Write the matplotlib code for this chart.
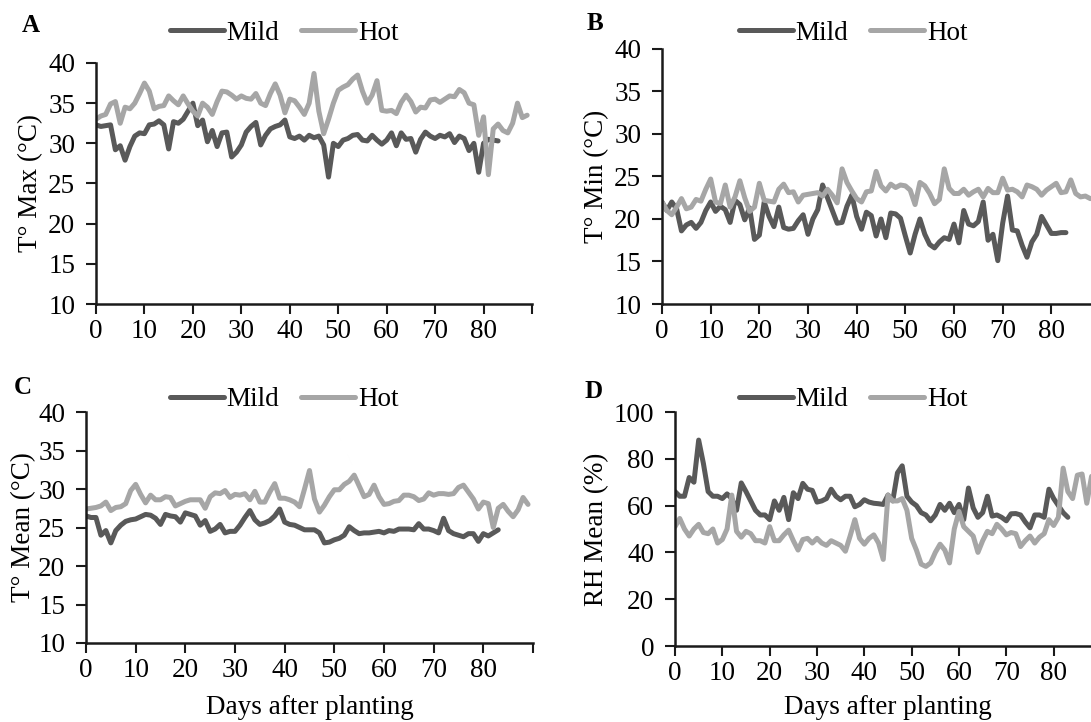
import numpy as np
import matplotlib
matplotlib.use('Agg')
import matplotlib.pyplot as plt

plt.rcParams['font.family'] = ['Liberation Serif', 'DejaVu Serif']

# daily values
tmax_mild = [32.3, 32.1, 32.2, 32.3, 29.2, 29.7, 27.9, 29.6, 30.9, 31.3,
             31.2, 32.3, 32.4, 32.8, 32.3, 29.3, 32.7, 32.5, 33.0, 34.0,
             35.0, 32.2, 32.9, 30.2, 31.6, 29.6, 31.3, 31.4, 28.3, 28.9,
             29.8, 31.4, 32.1, 32.6, 29.8, 31.0, 31.8, 32.1, 32.3, 32.9,
             30.8, 30.6, 30.9, 30.4, 31.0, 30.7, 30.9, 29.8, 25.8, 30.0,
             29.6, 30.4, 30.6, 31.0, 31.1, 30.4, 30.3, 31.0, 30.4, 29.9,
             30.4, 31.3, 29.7, 31.3, 30.5, 30.6, 28.9, 30.5, 31.4, 30.9,
             30.6, 31.0, 30.8, 31.2, 30.1, 30.9, 30.6, 29.1, 30.0, 26.4,
             30.0, 30.5, 30.4, 30.3]
tmax_hot = [33.0, 33.4, 33.6, 34.9, 35.2, 32.5, 34.5, 34.3, 35.0, 36.2,
            37.5, 36.5, 34.3, 34.6, 34.7, 35.9, 35.3, 34.8, 35.9, 34.9,
            34.0, 33.4, 35.0, 34.5, 33.6, 35.2, 36.5, 36.4, 36.0, 35.5,
            35.9, 35.6, 35.5, 36.2, 35.0, 34.7, 36.2, 37.4, 36.0, 33.8,
            35.5, 35.3, 34.5, 33.6, 35.0, 38.7, 34.0, 31.2, 33.0, 35.0,
            36.6, 37.0, 37.3, 38.0, 38.5, 36.5, 35.0, 36.0, 37.8, 34.1,
            34.0, 34.1, 33.7, 35.1, 36.0, 35.2, 33.9, 34.5, 34.4, 35.4,
            35.5, 35.1, 35.5, 35.9, 35.8, 36.7, 36.3, 35.0, 34.8, 31.0,
            33.3, 26.1, 31.8, 32.4, 31.6, 31.3, 32.5, 35.0, 33.2, 33.5]

tmin_mild = [22.0, 21.0, 22.0, 21.2, 18.6, 19.3, 19.6, 18.9, 19.6, 21.0,
             22.0, 20.9, 21.5, 21.1, 19.6, 22.2, 21.7, 19.9, 21.3, 17.6,
             18.1, 22.0, 20.3, 19.1, 21.4, 19.0, 18.8, 18.9, 19.8, 20.5,
             18.2, 20.0, 21.1, 24.0, 22.5, 21.0, 19.5, 19.6, 21.5, 22.8,
             20.3, 18.8, 20.8, 20.4, 18.0, 20.0, 17.8, 20.7, 20.6, 20.1,
             18.0, 16.0, 18.2, 20.0, 18.2, 17.0, 16.6, 17.3, 17.8, 17.6,
             19.4, 17.2, 21.0, 19.4, 19.2, 19.7, 22.0, 17.5, 18.2, 15.1,
             19.5, 22.7, 18.7, 18.6, 16.9, 15.5, 17.3, 18.2, 20.3, 19.3,
             18.3, 18.3, 18.4, 18.4]
tmin_hot = [22.0, 21.0, 20.5, 21.4, 22.4, 21.2, 21.4, 22.3, 22.1, 23.5,
            24.7, 22.0, 21.8, 24.0, 21.4, 22.6, 24.5, 22.5, 20.9, 21.4,
            24.2, 22.2, 22.1, 22.0, 23.5, 24.1, 23.1, 23.2, 22.0, 22.8,
            22.9, 23.0, 23.1, 22.7, 23.5, 22.8, 21.9, 25.9, 24.3, 23.3,
            22.4, 22.0, 23.2, 23.3, 25.6, 23.9, 23.3, 24.1, 23.7, 24.0,
            23.9, 23.4, 21.7, 24.3, 23.9, 23.0, 21.8, 22.3, 25.9, 23.6,
            23.0, 23.0, 23.5, 22.8, 23.2, 23.5, 22.6, 23.6, 23.1, 23.1,
            24.8, 23.4, 23.5, 23.2, 22.6, 24.0, 23.8, 23.5, 22.8, 23.4,
            23.8, 24.2, 23.1, 23.2, 24.6, 23.0, 22.6, 22.7, 22.4, 22.5]

tmean_mild = [26.5, 26.3, 26.3, 24.0, 24.6, 23.0, 24.6, 25.3, 25.8, 26.0,
              26.1, 26.4, 26.7, 26.6, 26.2, 25.4, 26.7, 26.5, 26.4, 25.7,
              26.9, 26.7, 26.5, 25.3, 25.9, 24.5, 24.8, 25.4, 24.3, 24.5,
              24.5, 25.3, 26.3, 27.2, 26.0, 25.4, 25.6, 25.9, 26.5, 27.4,
              25.7, 25.4, 25.3, 25.0, 24.7, 24.7, 24.7, 24.3, 23.0, 23.1,
              23.4, 23.6, 24.0, 25.1, 24.6, 24.2, 24.3, 24.3, 24.4, 24.5,
              24.3, 24.6, 24.5, 24.8, 24.8, 24.8, 24.7, 25.5, 24.8, 24.8,
              24.6, 24.3, 26.2, 24.6, 24.2, 24.0, 23.8, 24.2, 24.2, 23.2,
              24.2, 23.9, 24.3, 24.7]
tmean_hot = [27.4, 27.5, 27.6, 27.8, 28.3, 27.2, 27.6, 27.7, 28.1, 29.8,
             30.6, 29.3, 28.2, 29.2, 28.6, 28.6, 29.0, 28.9, 27.8, 28.1,
             28.4, 28.6, 28.6, 28.6, 27.5, 29.0, 29.5, 29.4, 29.8, 28.9,
             29.3, 29.2, 29.4, 28.6, 29.7, 28.3, 28.3, 29.6, 30.7, 28.8,
             28.8, 28.6, 28.3, 27.7, 30.0, 32.4, 28.7, 27.0, 27.9, 29.0,
             29.9, 29.9, 30.6, 31.0, 31.8, 30.4, 29.0, 29.3, 30.5, 29.0,
             28.0, 28.1, 28.4, 28.5, 29.2, 29.2, 29.0, 28.5, 28.7, 29.5,
             29.2, 29.4, 29.4, 29.3, 29.4, 30.2, 30.5, 29.6, 28.7, 27.4,
             28.3, 28.1, 25.0, 27.5, 28.0, 27.1, 26.4, 27.3, 28.9, 28.0]

rh_mild = [66, 64, 64, 72, 70, 88, 78, 66, 64, 64,
           63, 65, 63, 58, 69.7, 66, 62, 58, 56, 56,
           54, 62, 58, 63.5, 54, 65.5, 63, 69.5, 67, 66.5,
           61.5, 62, 63, 67, 64, 62.5, 64, 64, 59.5, 60.5,
           62.5, 61.5, 61, 60.8, 60.5, 64.5, 62, 74, 77, 64,
           61.5, 60, 57, 56, 53.5, 56, 60.5, 58, 61, 57,
           60.5, 54, 67.5, 59, 55, 57, 64, 55.5, 56, 55,
           53.5, 56.5, 56.6, 56, 53, 50.5, 56, 56, 55, 67,
           63, 60, 57, 55]
rh_hot = [51, 54.5, 50, 47, 50, 52, 48.5, 48, 50, 44,
          45.5, 50, 64.5, 49, 46.5, 49, 48, 45, 45, 44,
          51, 45, 45, 47.5, 49.5, 45, 41, 45.5, 46, 44,
          46, 44, 43, 45, 44, 43, 40.5, 47, 54, 46,
          43.5, 46, 47.5, 44, 37, 64.5, 62, 62, 63, 58,
          46, 41, 35, 34, 35.5, 40, 43.5, 41, 35.5, 50,
          57.5, 51, 49, 47, 40, 45, 49, 48, 52, 50,
          47.5, 48.5, 48, 42.5, 45, 47, 44, 46.5, 48, 54,
          51.5, 55, 76, 66, 63, 73, 73.5, 61, 72.5, 70]

W, H = 1091, 722
fig = plt.figure(figsize=(W / 100, H / 100), dpi=100)


def px_axes(left, right, top, bottom):
    return fig.add_axes([left / W, 1 - bottom / H, (right - left) / W, (bottom - top) / H])


mild_col = '#595959'
hot_col = '#a6a6a6'
fs = 19.5

panels = [
    # letter, mild, hot, ylabel, yticks, box(l, r, t, b), letter pos, legend center, ylabel x, xlabel
    ('A', tmax_mild, tmax_hot, 'T° Max (°C)', range(10, 41, 5), (96, 532, 63, 304), (22, 25), (284, 33), -0.122, False),
    ('B', tmin_mild, tmin_hot, 'T° Min (°C)', range(10, 41, 5), (662, 1100, 49, 304), (587, 23), (853, 33), -0.121, False),
    ('C', tmean_mild, tmean_hot, 'T° Mean (°C)', range(10, 41, 5), (86, 533, 412, 643), (14, 387), (284, 400), -0.112, True),
    ('D', rh_mild, rh_hot, 'RH Mean (%)', range(0, 101, 20), (675, 1101, 412, 646), (585, 392), (853, 400), -0.155, True),
]

for letter, mild, hot, ylab, yt, box, lpos, legpos, ylx, has_xlabel in panels:
    ax = px_axes(*box)
    ax.plot(np.arange(len(mild)), mild, color=mild_col, lw=3.6, label='Mild',
            solid_capstyle='round', solid_joinstyle='round')
    ax.plot(np.arange(len(hot)), hot, color=hot_col, lw=3.6, label='Hot',
            solid_capstyle='round', solid_joinstyle='round')
    ax.set_xlim(0, 90)
    ax.set_ylim(yt[0], yt[-1])
    ax.set_yticks(list(yt))
    ax.set_xticks(range(0, 91, 10))
    ax.set_xticklabels([str(v) for v in range(0, 81, 10)] + [''])
    for s in ['top', 'right']:
        ax.spines[s].set_visible(False)
    for s in ['left', 'bottom']:
        ax.spines[s].set_linewidth(1.8)
        ax.spines[s].set_color('#1a1a1a')
    ax.tick_params(axis='both', labelsize=fs, length=7, width=1.5, color='#1a1a1a')
    ax.tick_params(axis='x', pad=4)
    ax.tick_params(axis='y', pad=8)
    ax.set_ylabel(ylab, fontsize=fs)
    ax.yaxis.set_label_coords(ylx, 0.5)
    if has_xlabel:
        ax.set_xlabel('Days after planting', fontsize=fs)
        ax.xaxis.set_label_coords(0.5, -(695 - box[3]) / (box[3] - box[2]))
    fig.text(lpos[0] / W, 1 - lpos[1] / H, letter, fontsize=18, fontweight='bold',
             ha='left', va='center')
    ax.legend(loc='center', bbox_to_anchor=(legpos[0] / W, 1 - legpos[1] / H),
              bbox_transform=fig.transFigure, ncol=2, frameon=False, fontsize=fs,
              handlelength=2.0, handletextpad=0.1, columnspacing=0.8,
              borderpad=0, borderaxespad=0)

fig.savefig('out.png', dpi=100)
